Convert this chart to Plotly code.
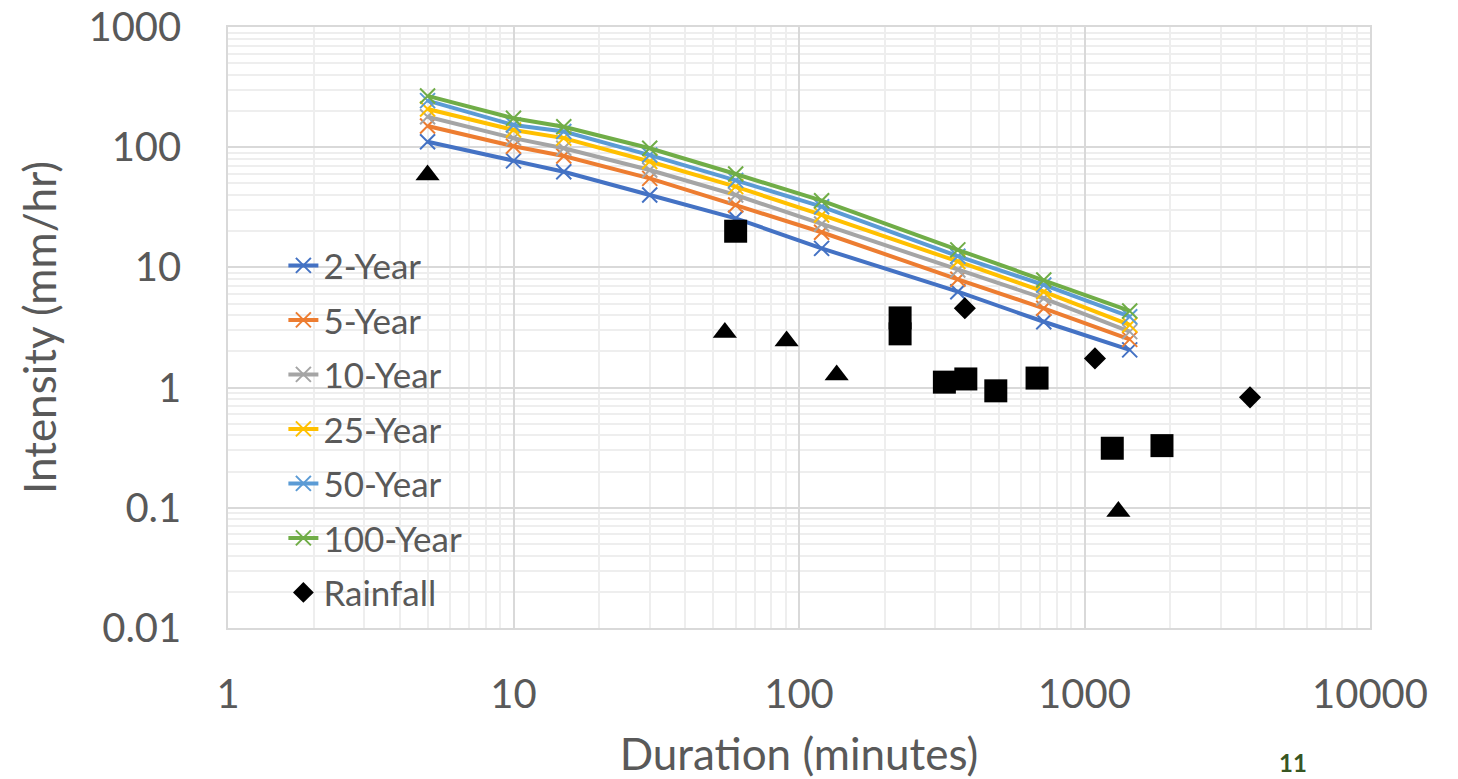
import plotly.graph_objects as go

durations = [5, 10, 15, 30, 60, 120, 360, 720, 1440]
idf_names = ["2-Year", "5-Year", "10-Year", "25-Year", "50-Year", "100-Year"]
idf_colors = ["#4472C4", "#ED7D31", "#A5A5A5", "#FFC000", "#5B9BD5", "#70AD47"]
i_2yr = [111, 77, 62.5, 40, 25.6, 14.4, 6.28, 3.53, 2.06]
i_5yr = [150, 102, 84.5, 55, 33, 19.6, 7.96, 4.57, 2.52]
i_10yr = [179, 119, 98, 64.6, 40, 23, 9.5, 5.53, 2.92]
i_25yr = [208, 139, 119, 76, 47, 27.3, 11.2, 6.28, 3.32]
i_50yr = [244, 153, 135, 86, 53, 32, 12.4, 7.14, 3.89]
i_100yr = [267, 174, 148, 98, 59.8, 35.9, 14.0, 7.85, 4.34]
idf_values = [i_2yr, i_5yr, i_10yr, i_25yr, i_50yr, i_100yr]

rain_diamond_x = [381, 1088, 3800]
rain_diamond_y = [4.57, 1.75, 0.83]
rain_square_x = [60, 226, 226, 323, 384, 489, 682, 1251, 1868]
rain_square_y = [20, 3.8, 2.8, 1.11, 1.18, 0.94, 1.20, 0.313, 0.329]
rain_tri_x = [5, 55, 90.5, 135.5, 1314]
rain_tri_y = [58.7, 2.88, 2.44, 1.27, 0.093]

x_tickvals = [1, 10, 100, 1000, 10000]
x_ticktext = ["1", "10", "100", "1000", "10000"]
y_tickvals = [0.01, 0.1, 1, 10, 100, 1000]
y_ticktext = ["0.01", "0.1", "1", "10", "100", "1000"]

FONT = "Lato"
TXT = "#595959"

fig = go.Figure()
for i, (name, col, vals) in enumerate(zip(idf_names, idf_colors, idf_values)):
    fig.add_trace(go.Scatter(
        x=durations, y=vals, name=name, mode="lines+markers",
        line=dict(color=col, width=4),
        marker=dict(symbol="x-thin", size=15, line=dict(color=col, width=2), color=col),
        legendgroup="g%d" % i,
    ))

fig.add_trace(go.Scatter(
    x=rain_diamond_x, y=rain_diamond_y, name="Rainfall", mode="markers",
    marker=dict(symbol="diamond", size=17, color="black"), legendgroup="g6",
))
fig.add_trace(go.Scatter(
    x=rain_square_x, y=rain_square_y, name="Rainfall squares", mode="markers",
    marker=dict(symbol="square", size=23, color="black"), showlegend=False,
))
fig.add_trace(go.Scatter(
    x=rain_tri_x, y=rain_tri_y, name="Rainfall triangles", mode="markers",
    marker=dict(symbol="triangle-up", size=21, color="black"), showlegend=False,
))

minor_x = [m * 10 ** e for e in range(0, 4) for m in range(2, 10)]
minor_y = [m * 10.0 ** e for e in range(-2, 3) for m in range(2, 10)]

fig.update_layout(
    width=1458, height=779,
    margin=dict(l=228, r=88, t=27, b=151, autoexpand=False),
    paper_bgcolor="white", plot_bgcolor="white",
    font=dict(family=FONT, color=TXT),
    showlegend=True,
    legend=dict(
        x=0.0485, y=0.652, xanchor="left", yanchor="top",
        bgcolor="rgba(0,0,0,0)", font=dict(family=FONT, size=35, color=TXT),
        traceorder="grouped", tracegroupgap=6, itemwidth=30,
    ),
    xaxis=dict(
        type="log", range=[0, 4], automargin=False,
        tickmode="array", tickvals=x_tickvals, ticktext=x_ticktext,
        tickfont=dict(size=40, color=TXT, family=FONT),
        ticks="outside", ticklen=30, tickcolor="rgba(0,0,0,0)",
        showgrid=True, gridcolor="#d9d9d9", gridwidth=1.5,
        minor=dict(tickmode="array", tickvals=minor_x, showgrid=True, gridcolor="#eeeeee", gridwidth=1.5),
        showline=True, linecolor="#d9d9d9", linewidth=1.5, mirror=True,
        zeroline=False,
        title=dict(text="Duration (minutes)", font=dict(size=44, color=TXT, family=FONT), standoff=33),
    ),
    yaxis=dict(
        type="log", range=[-2, 3], automargin=False,
        tickmode="array", tickvals=y_tickvals, ticktext=y_ticktext,
        tickfont=dict(size=40, color=TXT, family=FONT),
        ticks="outside", ticklen=37, tickcolor="rgba(0,0,0,0)",
        showgrid=True, gridcolor="#d9d9d9", gridwidth=1.5,
        minor=dict(tickmode="array", tickvals=minor_y, showgrid=True, gridcolor="#eeeeee", gridwidth=1.5),
        showline=True, linecolor="#d9d9d9", linewidth=1.5, mirror=True,
        zeroline=False,
        title=dict(text="Intensity (mm/hr)", font=dict(size=44, color=TXT, family=FONT), standoff=18),
    ),
    shapes=[dict(
        type="rect", xref="paper", yref="paper",
        x0=0.0131, x1=0.2207, y0=0.0033, y1=0.6506,
        fillcolor="white", line=dict(width=0), layer="below",
    )],
    annotations=[dict(
        text="<b>11</b>", xref="paper", yref="paper",
        x=(1293 - 228) / 1142, y=(628 - 762) / 601,
        xanchor="center", yanchor="middle", showarrow=False,
        font=dict(family=FONT, size=24, color="#375623"),
    )],
)

fig.write_html("out.html")
